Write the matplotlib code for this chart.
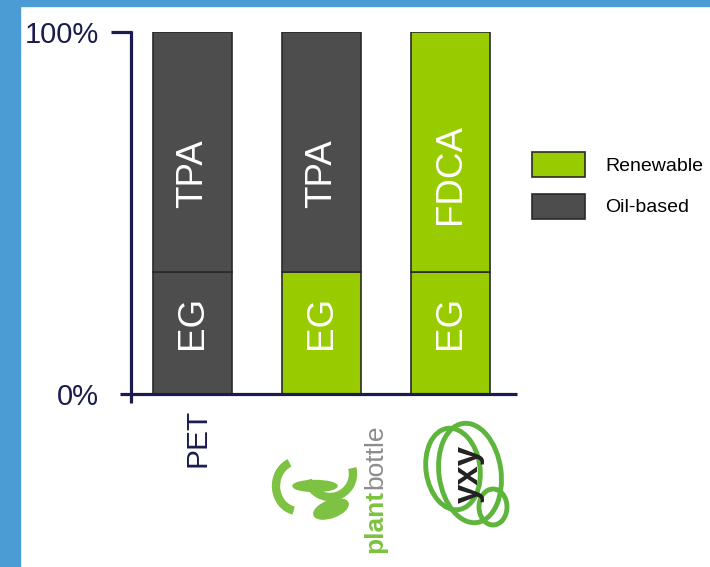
import matplotlib
matplotlib.use("Agg")
import matplotlib.pyplot as plt
from matplotlib.patches import Rectangle, Ellipse, Arc, Patch
import matplotlib.transforms as mtransforms
import numpy as np

plt.rcParams['font.family'] = ['Liberation Sans', 'DejaVu Sans']

# ---- data ----
categories = ['PET', 'PlantBottle', 'YXY']
eg_share = [33.6, 33.6, 33.6]              # % EG (bottom segment)
acid_share = [66.4, 66.4, 66.4]            # % TPA / FDCA (top segment)
acid_names = ['TPA', 'TPA', 'FDCA']
eg_source = ['Oil-based', 'Renewable', 'Renewable']
acid_source = ['Oil-based', 'Oil-based', 'Renewable']
yticks = [0, 100]
ytick_labels = ['0%', '100%']
legend_labels = ['Renewable', 'Oil-based']

GREEN = '#99cc00'
DARK = '#4d4d4d'
EDGE = '#2a2a2a'
NAVY = '#1b1b4d'
BLUE = '#4b9bd5'
colors = {'Renewable': GREEN, 'Oil-based': DARK}

W, H = 710, 567
fig = plt.figure(figsize=(W / 100, H / 100), dpi=100)
fig.patch.set_facecolor('white')

# blue border (figure-level, behind everything)
fig.add_artist(Rectangle((0, 0), 20 / W, 1, transform=fig.transFigure,
                         color=BLUE, zorder=-10))
fig.add_artist(Rectangle((0, 1 - 6 / H), 1, 6 / H, transform=fig.transFigure,
                         color=BLUE, zorder=-10))

ax = fig.add_axes([131 / W, 1 - 394 / H, (517 - 131) / W, (394 - 32) / H])
ax.patch.set_alpha(0)
x = np.arange(len(categories))
bw = 0.61
ax.bar(x, eg_share, width=bw, color=[colors[s] for s in eg_source],
       edgecolor=EDGE, linewidth=1.2, zorder=2)
ax.bar(x, acid_share, bottom=eg_share, width=bw,
       color=[colors[s] for s in acid_source], edgecolor=EDGE, linewidth=1.2, zorder=2)

for xi, e, a, name in zip(x, eg_share, acid_share, acid_names):
    ax.text(xi, e / 2 + 3, 'EG', rotation=90, ha='center', va='center',
            color='white', fontsize=26.5)
    ax.text(xi, e + a / 2 - 6, name, rotation=90, ha='center', va='center',
            color='white', fontsize=26.5)

ax.set_xlim(-0.477, 2.515)
ax.set_ylim(0, 100)
for s in ax.spines.values():
    s.set_visible(False)
ax.set_yticks(yticks)
ax.set_yticklabels(ytick_labels, fontsize=21, color=NAVY)
ax.tick_params(axis='y', length=0, pad=23)
ax.set_xticks([x[0]])
ax.set_xticklabels([categories[0]], rotation=90, fontsize=21.5, color=NAVY)
ax.tick_params(axis='x', length=0, pad=11)
shift = mtransforms.ScaledTranslation(5 / 100, 0, fig.dpi_scale_trans)
for lbl in ax.get_xticklabels():
    lbl.set_transform(lbl.get_transform() + shift)

# overlay in pixel coordinates for axis lines and logos
ov = fig.add_axes([0, 0, 1, 1], zorder=5)
ov.set_xlim(0, W)
ov.set_ylim(H, 0)
ov.axis('off')
ov.patch.set_alpha(0)
lw = 2.3
ov.plot([131, 131], [31, 403], color=NAVY, lw=lw, solid_capstyle='butt')
ov.plot([111, 132], [32, 32], color=NAVY, lw=lw, solid_capstyle='butt')
ov.plot([120, 517], [394, 394], color=NAVY, lw=lw, solid_capstyle='butt')

# legend
handles = [Patch(facecolor=colors[l], edgecolor=EDGE, linewidth=1.2) for l in legend_labels]
fig.legend(handles, legend_labels, loc='upper left',
           bbox_to_anchor=(532 / W, 1 - 152 / H), frameon=False, fontsize=14,
           handlelength=2.7, handleheight=1.6, labelspacing=0.85,
           handletextpad=1.05, borderpad=0, borderaxespad=0)

# plantbottle logo (approximation)
LG = '#7dc242'
ov.text(375, 553, 'plant', rotation=90, ha='center', va='bottom',
        color=LG, fontsize=19, fontweight='bold')
ov.text(375, 489, 'bottle', rotation=90, ha='center', va='bottom',
        color='#8c8c8c', fontsize=19)
ov.add_patch(Arc((298, 486), 44, 50, theta1=100, theta2=250, color=LG, lw=6))
ov.add_patch(Arc((330, 474), 46, 46, theta1=-15, theta2=165, color=LG, lw=6))
ov.add_patch(Ellipse((315, 486), 44, 11, color=LG))
ov.add_patch(Ellipse((331, 509), 36, 17, angle=-20, color=LG))

# yxy logo (approximation)
YG = '#5db53c'
ov.add_patch(Ellipse((470, 473), 62, 100, angle=-8, fill=False, ec=YG, lw=3.5))
ov.add_patch(Ellipse((453, 469), 54, 82, angle=-8, fill=False, ec=YG, lw=3.5))
ov.add_patch(Ellipse((493, 507), 28, 36, angle=0, fill=False, ec=YG, lw=3.5))
ov.text(468, 474, 'yxy', rotation=90, ha='center', va='center',
        color='#222222', fontsize=25, fontweight='bold')

fig.savefig('out.png', dpi=100)
